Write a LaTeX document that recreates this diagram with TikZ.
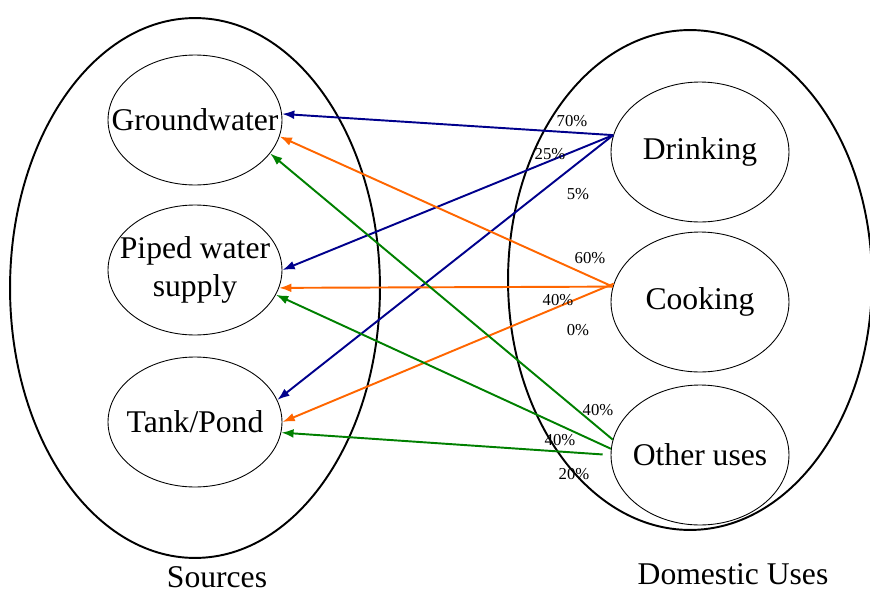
\documentclass[tikz,border=0pt]{standalone}
\usepackage{fontspec}
\setmainfont{Liberation Serif}
\usetikzlibrary{shapes.geometric,arrows.meta}
\definecolor{drinkblue}{RGB}{0,0,140}
\definecolor{cookorange}{RGB}{255,102,0}
\definecolor{othergreen}{RGB}{0,128,0}
\begin{document}
\begin{tikzpicture}[x=0.02cm,y=-0.02cm,
  group/.style={draw=black,line width=1.1pt,ellipse,inner sep=0pt},
  source/.style={draw=black,line width=0.5pt,ellipse,inner sep=0pt,minimum width=3.48cm,minimum height=2.6cm,label={[font=\fontsize{18}{22}\selectfont,align=center]center:#1}},
  use/.style={draw=black,line width=0.5pt,ellipse,inner sep=0pt,minimum width=3.56cm,minimum height=2.8cm,label={[font=\fontsize{18}{22}\selectfont]center:#1}},
  flow/.style={line width=1.1pt,-{Latex[length=7pt,width=5pt]}},
  pct/.style={font=\fontsize{9.5}{11}\selectfont,inner sep=0pt}]
  \useasboundingbox (0,0) rectangle (870,592);

  % outer groups
  \node[group,minimum width=7.4cm,minimum height=10.8cm] (srcs) at (195,288) {};
  \node[group,minimum width=7.28cm,minimum height=10cm] (uses) at (690,280) {};

  % sources
  \node[source=Groundwater] (gw) at (195,120) {};
  \node[source={Piped water\\supply}] (pw) at (195,270) {};
  \node[source=Tank/Pond] (tp) at (195,422) {};

  % uses
  \node[use=Drinking] (dr) at (700,152) {};
  \node[use=Cooking] (ck) at (700,302) {};
  \node[use=Other uses] (ou) at (700,455) {};

  % flows
  \draw[flow,drinkblue] (dr.169) -- (gw.4);
  \draw[flow,drinkblue] (dr.169) -- (pw.0);
  \draw[flow,drinkblue] (dr.169) -- (tp.15);
  \draw[flow,cookorange] (ck.170) -- (gw.-11);
  \draw[flow,cookorange] (ck.170) -- (pw.-12);
  \draw[flow,cookorange] (ck.168) -- (tp.0);
  \draw[flow,othergreen] (ou.170) -- (gw.-24);
  \draw[flow,othergreen] (ou.176) -- (pw.-17);
  \draw[flow,othergreen,shorten <=4.5pt] (ou.180) -- (tp.-7);

  % shares
  \node[pct] (p70) at (572,121) {70\%};
  \node[pct] (p25) at (550,154) {25\%};
  \node[pct] (p5) at (578,194) {5\%};
  \node[pct] (p60) at (590,258) {60\%};
  \node[pct] (p40a) at (558,300) {40\%};
  \node[pct] (p0) at (578,330) {0\%};
  \node[pct] (p40b) at (598,410) {40\%};
  \node[pct] (p40c) at (560,440) {40\%};
  \node[pct] (p20) at (574,474) {20\%};

  \node[font=\fontsize{18}{22}\selectfont] (srclabel) at (217,577) {Sources};
  \node[font=\fontsize{18}{22}\selectfont] (uselabel) at (733,574) {Domestic Uses};
\end{tikzpicture}
\end{document}
